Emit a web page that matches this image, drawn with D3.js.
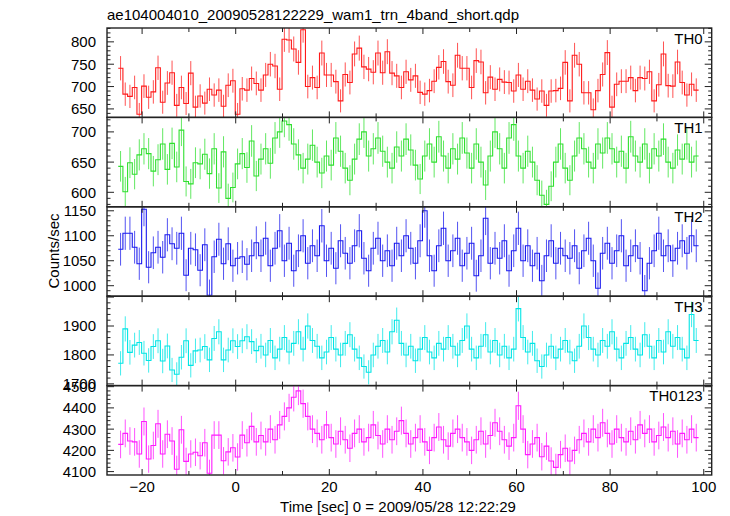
<!DOCTYPE html>
<html><head><meta charset="utf-8">
<script src="https://cdn.jsdelivr.net/npm/d3@7"></script>
<style>body{margin:0;background:#fff}svg{display:block}text{font-family:"Liberation Sans",Arial,Helvetica,sans-serif}</style>
</head><body>
<svg id="c" width="730" height="516"></svg>
<script>
const title = "ae104004010_20090528122229_wam1_trn_4band_short.qdp";
const xLabel = "Time [sec] 0 = 2009/05/28 12:22:29";
const yLabel = "Counts/sec";
const binStart = -25.1, binWidth = 1.0;
const xTicks = [-20, 0, 20, 40, 60, 80, 100];
const panelNames = ["TH0", "TH1", "TH2", "TH3", "TH0123"];
const panelColors = ["#ff1a1a", "#2ee02e", "#1a1aee", "#00e5e5", "#ff1aff"];
const yDomains = [[631, 831], [576, 724], [979, 1158], [1694, 2003], [4084, 4505]];
const yMajor = [[650, 700, 750, 800], [600, 650, 700], [1000, 1050, 1100, 1150], [1700, 1800, 1900], [4100, 4200, 4300, 4400, 4500]];
const yMinorStep = [10, 10, 10, 20, 20];

const th0 = [741,683,678,698,638,701,676,688,742,665,708,731,658,698,662,730,654,679,663,694,681,692,656,703,713,638,695,692,718,707,
692,726,750,746,694,806,804,784,754,827,700,720,698,775,726,726,711,668,727,709,773,786,744,739,732,775,731,778,730,724,
698,733,715,724,687,683,691,712,743,756,711,703,770,741,741,698,758,755,686,721,694,716,710,709,690,726,694,712,692,672,
690,658,690,691,696,754,668,770,750,686,686,648,691,727,776,654,705,712,712,720,691,720,718,733,668,704,773,702,701,755,
709,681,705,692];
const th1 = [643,601,649,630,662,672,664,635,654,680,638,681,642,703,618,614,649,647,663,631,672,607,667,590,608,647,664,641,685,627,
655,672,648,690,700,718,712,680,662,640,655,678,650,632,660,645,690,668,640,620,655,688,700,660,672,690,668,650,640,675,
660,688,670,645,622,660,680,650,692,660,640,672,655,690,665,640,680,650,612,660,700,672,640,690,712,660,640,668,650,620,
595,580,610,650,680,640,620,660,690,672,650,640,680,665,690,672,650,668,640,692,660,650,680,640,672,660,688,650,640,670,
655,680,650,660];
const th2 = [1073,1105,1105,1077,1044,1153,1037,1066,1077,1057,1102,1084,1075,1105,1021,1075,1072,1031,1082,981,1058,1093,1044,1084,1040,1055,1058,1043,1060,1086,
1060,1095,1040,1075,1110,1050,1085,1030,1070,1100,1045,1080,1060,1120,1050,1075,1035,1090,1065,1045,1080,1110,1055,1030,1075,1095,1050,1070,1040,1085,
1060,1100,1075,1045,1090,1150,1060,1030,1080,1115,1050,1070,1095,1040,1065,1085,1020,1060,1135,1045,1075,1055,1090,1030,1070,1115,1050,1080,1040,1065,
1010,1060,1090,1045,1075,1060,1055,1080,1035,1070,1095,1050,995,1065,1085,1045,1070,1100,1040,1060,1080,1055,990,1045,1070,1105,1060,1080,1050,1075,
1090,1065,1100,1080];
const th3 = [1771,1890,1809,1834,1843,1806,1781,1829,1849,1779,1831,1748,1733,1792,1849,1764,1814,1817,1829,1783,1857,1880,1783,1817,1849,1829,1849,1863,1846,1815,
1830,1800,1850,1790,1820,1860,1810,1840,1880,1820,1900,1850,1830,1790,1810,1860,1820,1800,1840,1870,1820,1790,1760,1740,1800,1830,1850,1810,1880,1920,
1840,1800,1830,1780,1820,1860,1810,1790,1840,1820,1860,1830,1800,1850,1900,1820,1790,1830,1870,1810,1850,1800,1830,1790,1820,1960,1860,1810,1840,1780,
1760,1800,1830,1790,1820,1850,1810,1780,1830,1900,1860,1820,1800,1850,1830,1880,1820,1790,1840,1860,1820,1800,1870,1830,1790,1850,1810,1880,1830,1860,
1820,1790,1940,1850];
const th0123 = [4228,4280,4244,4240,4183,4336,4159,4223,4325,4183,4276,4244,4111,4297,4148,4183,4191,4175,4236,4092,4272,4272,4151,4193,4212,4169,4272,4236,4313,4240,
4270,4240,4300,4250,4320,4360,4400,4450,4480,4420,4360,4300,4280,4250,4320,4260,4230,4290,4250,4210,4280,4300,4240,4260,4320,4270,4230,4300,4250,4290,
4340,4280,4230,4260,4300,4240,4200,4260,4310,4250,4220,4280,4300,4260,4240,4200,4250,4290,4230,4270,4330,4290,4250,4220,4260,4410,4300,4180,4230,4260,
4170,4220,4150,4120,4180,4210,4150,4200,4250,4280,4240,4300,4260,4330,4280,4230,4300,4260,4240,4290,4250,4320,4280,4300,4240,4270,4310,4260,4290,4230,
4280,4250,4300,4260];
const series = [th0, th1, th2, th3, th0123];

const svg = d3.select("#c");
const L = 107, R = 711.7, T = 28, B = 475;
const ph = (B - T) / 5;
const x = d3.scaleLinear().domain([-27.5, 101.7]).range([L, R]);
const frameColor = "#222";

series.forEach((vals, p) => {
  const top = T + p * ph, bot = top + ph;
  const y = d3.scaleLinear().domain(yDomains[p]).range([bot, top]);
  const g = svg.append("g");
  const clipId = "clip" + p;
  svg.append("clipPath").attr("id", clipId).append("rect").attr("x", L).attr("y", top).attr("width", R - L).attr("height", ph);
  const col = panelColors[p];
  const data = vals.map((v, i) => ({t0: binStart + i * binWidth, v, e: Math.sqrt(v / binWidth)}));
  const gd = g.append("g").attr("clip-path", `url(#${clipId})`);
  gd.selectAll("line.err").data(data).join("line").attr("class", "err")
    .attr("x1", d => x(d.t0 + binWidth / 2)).attr("x2", d => x(d.t0 + binWidth / 2))
    .attr("y1", d => y(d.v - d.e)).attr("y2", d => y(d.v + d.e))
    .attr("stroke", col).attr("stroke-opacity", 0.75).attr("stroke-width", 1);
  const pts = data.map(d => [d.t0, d.v]);
  pts.push([data[data.length - 1].t0 + binWidth, data[data.length - 1].v]);
  const line = d3.line().x(d => x(d[0])).y(d => y(d[1])).curve(d3.curveStepAfter);
  gd.append("path").attr("d", line(pts)).attr("fill", "none").attr("stroke", col).attr("stroke-width", 1.1);

  const [d0, d1] = yDomains[p];
  const minors = d3.range(Math.ceil(d0 / yMinorStep[p]) * yMinorStep[p], d1 + 0.001, yMinorStep[p]);
  minors.forEach(v => {
    const isMaj = yMajor[p].includes(v) || v % (yMinorStep[p] * 5) === 0;
    const len = isMaj ? 7 : 3.5;
    g.append("line").attr("x1", L).attr("x2", L + len).attr("y1", y(v)).attr("y2", y(v)).attr("stroke", frameColor).attr("stroke-width", 1);
    g.append("line").attr("x1", R).attr("x2", R - len).attr("y1", y(v)).attr("y2", y(v)).attr("stroke", frameColor).attr("stroke-width", 1);
  });
  yMajor[p].forEach(v => {
    g.append("text").attr("x", L - 11).attr("y", y(v)).attr("dy", "0.36em").attr("text-anchor", "end")
      .attr("font-size", 15).attr("fill", "#000").text(v);
  });
  d3.range(-20, 101, 10).forEach(t => {
    const len = t % 20 === 0 ? 6 : 4;
    g.append("line").attr("x1", x(t)).attr("x2", x(t)).attr("y1", top).attr("y2", top + len).attr("stroke", frameColor);
    g.append("line").attr("x1", x(t)).attr("x2", x(t)).attr("y1", bot).attr("y2", bot - len).attr("stroke", frameColor);
  });
  g.append("rect").attr("x", L).attr("y", top).attr("width", R - L).attr("height", ph)
    .attr("fill", "none").attr("stroke", frameColor).attr("stroke-width", 1.4);
  g.append("text").attr("x", R - 9).attr("y", top + 15.5).attr("text-anchor", "end")
    .attr("font-size", 15).attr("fill", "#000").text(panelNames[p]);
});

xTicks.forEach(t => {
  svg.append("text").attr("x", x(t)).attr("y", 492).attr("text-anchor", "middle")
    .attr("font-size", 15).attr("fill", "#000").text(t < 0 ? "\u2212" + Math.abs(t) : t);
});
svg.append("text").attr("x", 107).attr("y", 20).attr("font-size", 15).attr("fill", "#000").text(title);
svg.append("text").attr("x", 398).attr("y", 512).attr("text-anchor", "middle").attr("font-size", 15).attr("fill", "#000").text(xLabel);
svg.append("text").attr("transform", "translate(59,251) rotate(-90)").attr("text-anchor", "middle")
  .attr("font-size", 15).attr("fill", "#000").text(yLabel);
</script>
</body></html>
